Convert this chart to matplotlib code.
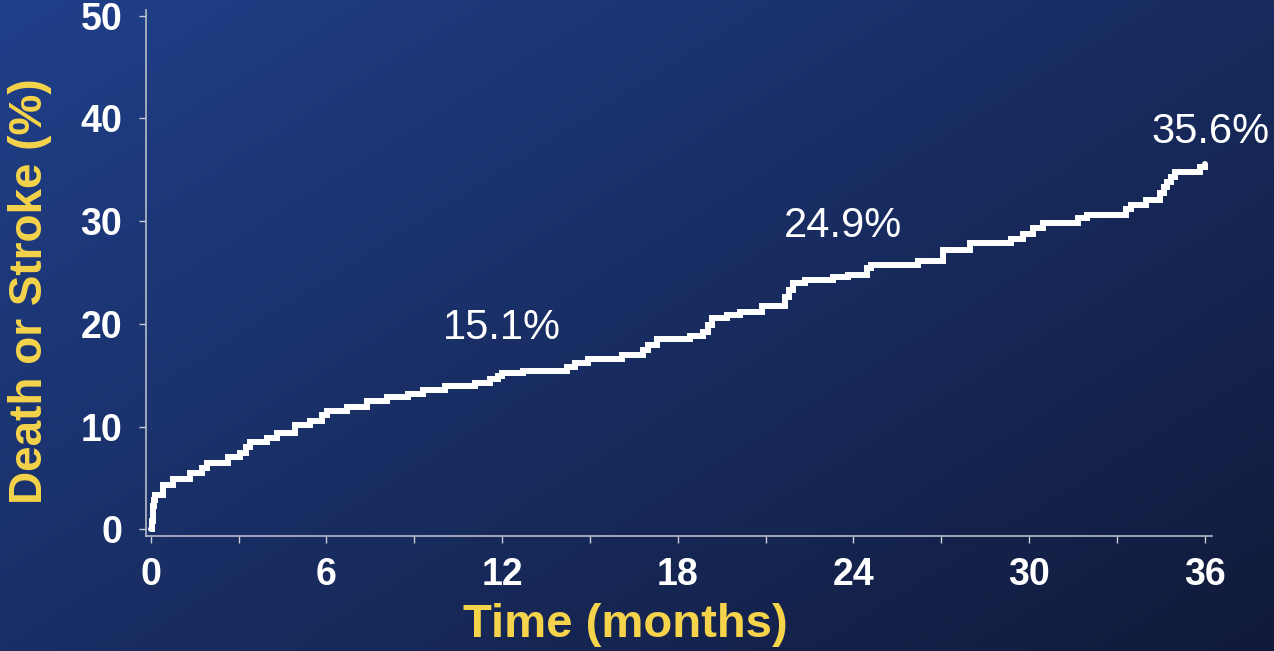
import numpy as np
from matplotlib import pyplot as plt

# Kaplan-Meier style cumulative event curve
months = [0, 0.05, 0.07, 0.10, 0.15, 0.43, 0.77, 1.34, 1.75, 1.91, 2.65, 3.05,
          3.25, 3.39, 3.96, 4.30, 4.93, 5.44, 5.85, 6.01, 6.69, 7.38, 8.06,
          8.80, 9.31, 10.05, 11.08, 11.59, 11.85, 11.99, 12.73, 14.21, 14.49,
          14.95, 16.09, 16.82, 16.99, 17.28, 18.42, 18.87, 19.05, 19.16, 19.67,
          20.13, 20.87, 21.66, 21.80, 21.95, 22.35, 23.31, 23.83, 24.45, 24.62,
          26.20, 27.07, 27.98, 29.40, 29.80, 30.14, 30.48, 31.68, 31.97, 33.33,
          33.50, 34.00, 34.47, 34.60, 34.70, 34.85, 34.98, 35.84, 36.00]
event_pct = [0.0, 0.8, 2.3, 2.9, 3.3, 4.3, 4.9, 5.45, 6.0, 6.5, 7.07, 7.46,
             8.0, 8.53, 8.92, 9.35, 10.16, 10.57, 11.1, 11.55, 11.94, 12.52, 12.85,
             13.17, 13.56, 13.95, 14.27, 14.6, 14.9, 15.19, 15.44, 15.77, 16.16,
             16.55, 16.97, 17.46, 17.95, 18.5, 18.82, 19.24, 19.9, 20.55, 20.87,
             21.19, 21.74, 22.65, 23.3, 23.95, 24.27, 24.54, 24.76, 25.41, 25.74,
             26.13, 27.2, 27.85, 28.24, 28.72, 29.31, 29.8, 30.28, 30.6, 31.16,
             31.58, 32.06, 32.72, 33.3, 33.85, 34.3, 34.82, 35.3, 35.6]

label_months = [12, 23.64, 36.2]
label_pct = [18.5, 28.46, 37.64]
label_text = ["15.1%", "24.9%", "35.6%"]

xticks = [0, 6, 12, 18, 24, 30, 36]
xminor = [3, 9, 15, 21, 27, 33]
yticks = [0, 10, 20, 30, 40, 50]

yellow = "#f5d34b"
plt.rcParams['font.family'] = ['Liberation Sans', 'DejaVu Sans']

fig = plt.figure(figsize=(12.74, 6.51), dpi=100)

# diagonal gradient background
bg = fig.add_axes([0, 0, 1, 1], zorder=-1)
gx, gy = np.meshgrid(np.linspace(0, 1, 400), np.linspace(0, 1, 200))
t = np.clip(0.55 * gx + 0.45 * gy, 0, 1)[..., None]
c0 = np.array([32, 64, 138]) / 255.0
c1 = np.array([17, 26, 58]) / 255.0
bg.imshow(c0 + (c1 - c0) * t, aspect='auto', extent=[0, 1, 1, 0])
bg.set_xlim(0, 1); bg.set_ylim(1, 0)
bg.axis('off')

ax = fig.add_axes([0.1144, 0.1771, 0.8369, 0.8069])
ax.patch.set_alpha(0)
ax.plot(months, event_pct, drawstyle='steps-post', color='white',
        lw=4.3, solid_joinstyle='miter', solid_capstyle='round')

ax.set_xlim(-0.17, 36.25)
ax.set_ylim(-0.62, 50.5)
for s in ['top', 'right']:
    ax.spines[s].set_visible(False)
for s in ['left', 'bottom']:
    ax.spines[s].set_color('#b8bcc8')
    ax.spines[s].set_linewidth(1.2)

ax.set_xticks(xticks)
ax.set_xticks(xminor, minor=True)
ax.set_yticks(yticks)
ax.tick_params(axis='both', which='both', colors='#c8ccd6', width=1.0,
               length=5, direction='out', labelcolor='white', labelsize=27)
ax.tick_params(axis='x', pad=10)
ax.tick_params(axis='y', pad=12)
for lab in ax.get_xticklabels() + ax.get_yticklabels():
    lab.set_fontweight('bold')

for xm, yp, txt in zip(label_months, label_pct, label_text):
    ax.text(xm, yp, txt, color='white', fontsize=30, ha='center', va='baseline')

ax.text(-0.109, 0.465, "Death or Stroke (%)", transform=ax.transAxes,
        rotation=90, ha='center', va='center', color=yellow,
        fontsize=33, fontweight='bold')
ax.text(0.45, -0.17, "Time (months)", transform=ax.transAxes,
        ha='center', va='center', color=yellow, fontsize=34, fontweight='bold')

fig.savefig('out.png', dpi=100)
